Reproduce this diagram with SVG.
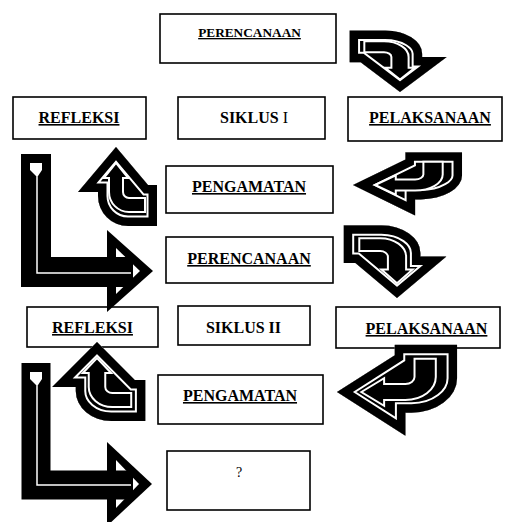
<svg xmlns="http://www.w3.org/2000/svg" xmlns:xlink="http://www.w3.org/1999/xlink" width="506" height="522" viewBox="0 0 506 522">
<style>
.box{fill:#fff;stroke:#000;stroke-width:1.6}
.t{font-family:"Liberation Serif","Times New Roman",serif;font-size:16px;font-weight:bold;text-anchor:middle;fill:#000}
.u{text-decoration:underline}
.wl{fill:none;stroke:#fff;stroke-width:1.5}
</style>
<defs>
<path id="bo" d="M0,0 L32,38 L41,38 L41,79 L12,79 A30,30 0 0 1 -18,49 L-18,45 L-38,45 Z" vector-effect="non-scaling-stroke"/>
<clipPath id="bc"><path d="M0,0 L32,38 L41,38 L41,79 L12,79 A30,30 0 0 1 -18,49 L-18,45 L-38,45 Z"/></clipPath>
<path id="bcore" d="M0,16 L12,31 L7,31 L7,45 A6,6 0 0 0 13,51 L29,51 L29,65 L13,65 A20,20 0 0 1 -7,45 L-7,31 L-12,31 Z" vector-effect="non-scaling-stroke"/>
<g id="ca">
  <use href="#bo" fill="#000" stroke="none"/>
  <use href="#bo" fill="none" stroke="#fff" stroke-width="21" clip-path="url(#bc)"/>
  <use href="#bo" fill="none" stroke="#000" stroke-width="17" clip-path="url(#bc)"/>
  <use href="#bcore" fill="#000" stroke="#fff" stroke-width="2"/>
</g>
</defs>

<g id="n-perencanaan1"><rect class="box" x="160" y="14" width="176" height="49"/><text class="t u" x="249.5" y="37" style="font-size:13.3px">PERENCANAAN</text></g>
<g id="n-refleksi1"><rect class="box" x="13" y="97" width="133" height="42"/><text class="t u" x="79" y="123">REFLEKSI</text></g>
<g id="n-siklus1"><rect class="box" x="178" y="97" width="147" height="42"/><text class="t" x="254" y="123">SIKLUS <tspan font-weight="normal">I</tspan></text></g>
<g id="n-pelaksanaan1"><rect class="box" x="348" y="97" width="154" height="44"/><text class="t u" x="430" y="123">PELAKSANAAN</text></g>
<g id="n-pengamatan1"><rect class="box" x="166" y="166" width="167" height="47"/><text class="t u" x="249" y="192">PENGAMATAN</text></g>
<g id="n-perencanaan2"><rect class="box" x="166" y="237" width="167" height="46"/><text class="t u" x="249" y="264">PERENCANAAN</text></g>
<g id="n-refleksi2"><rect class="box" x="27" y="307" width="131" height="40"/><text class="t u" x="92.5" y="333">REFLEKSI</text></g>
<g id="n-siklus2"><rect class="box" x="178" y="306" width="132" height="39"/><text class="t" x="243.5" y="333">SIKLUS II</text></g>
<g id="n-pelaksanaan2"><rect class="box" x="336" y="307" width="164" height="41"/><text class="t u" x="426.5" y="334">PELAKSANAAN</text></g>
<g id="n-pengamatan2"><rect class="box" x="158" y="375" width="165" height="49"/><text class="t u" x="240" y="401">PENGAMATAN</text></g>
<g id="n-q"><rect class="box" x="167" y="451" width="143" height="59"/><text class="t" x="239" y="477" style="font-weight:normal;font-size:14px">?</text></g>

<g id="connectors">
  <g transform="translate(400,92) rotate(180) scale(1.23,0.78)"><use href="#ca"/></g>
  <g transform="translate(353,185) rotate(-90) scale(0.8,1.38)"><use href="#ca"/></g>
  <g transform="translate(116,147)"><use href="#ca"/></g>
  <g transform="translate(397,298) rotate(180) scale(1.3,0.92)"><use href="#ca"/></g>
  <g transform="translate(337,392) rotate(-90) scale(1.15,1.52)"><use href="#ca"/></g>
  <g transform="translate(97,342) scale(1.18,1)"><use href="#ca"/></g>

  <g id="l-arrow1">
    <polygon points="107,230 153,271 107,312" fill="#000"/>
    <polygon points="116,248 140,271 116,294" fill="#fff"/>
    <path d="M36,154 L36,272 L133,272" fill="none" stroke="#000" stroke-width="30"/>
    <path class="wl" d="M37,176 L37,273 L131,273"/>
    <polygon points="30,163 42,163 42,170 38,176 36,176 30,170" fill="#fff"/>
  </g>
  <g id="l-arrow2">
    <polygon points="107,442 152,484 107,526" fill="#000"/>
    <polygon points="116,460 139,484 116,508" fill="#fff"/>
    <path d="M36,363 L36,485 L133,485" fill="none" stroke="#000" stroke-width="29"/>
    <path class="wl" d="M37,385 L37,485 L131,485"/>
    <polygon points="30,372 42,372 42,379 38,385 36,385 30,379" fill="#fff"/>
  </g>
</g>
</svg>
